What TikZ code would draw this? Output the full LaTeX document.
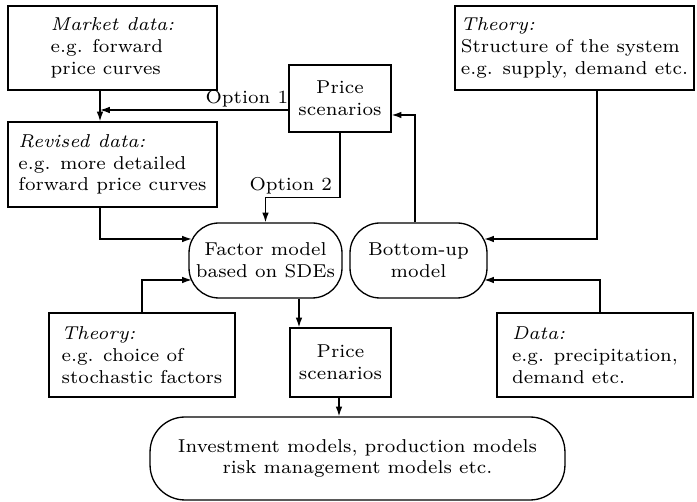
\documentclass[tikz,border=0pt]{standalone}
\usepackage{fontspec}
\setmainfont{lmroman7-regular.otf}[ItalicFont=lmroman7-italic.otf]
\usetikzlibrary{arrows.meta,calc}
\begin{document}
\begin{tikzpicture}[x=0.02cm,y=-0.02cm,
  every node/.style={font=\fontsize{10.6}{12.4}\selectfont},
  box/.style={draw,line width=0.75pt,inner sep=0pt,align=left},
  rbox/.style={draw,line width=0.75pt,inner sep=0pt,align=center,rounded corners=0.6cm},
  arr/.style={line width=0.75pt,-{Latex[length=5.6pt,width=3.8pt]}},
  lbl/.style={inner sep=1.5pt}]
\useasboundingbox (0,0) rectangle (697,502);
\node[box,minimum width=4.18cm,minimum height=1.68cm] (market) at (112.5,48) {\textit{Market data:}\\e.g. forward\\price curves};
\node[box,minimum width=4.18cm,minimum height=1.70cm] (revised) at (112.5,164.5) {\textit{Revised data:}\\e.g. more detailed\\forward price curves};
\node[box,align=center,minimum width=2.04cm,minimum height=1.34cm] (ptop) at (340,98.5) {Price\\scenarios};
\node[box,minimum width=4.78cm,minimum height=1.68cm] (theoryt) at (574.5,48) {\textit{Theory:}\\Structure of the system\\e.g. supply, demand etc.};
\node[rbox,minimum width=3.06cm,minimum height=1.5cm] (factor) at (265.5,260.5) {Factor model\\based on SDEs};
\node[rbox,minimum width=2.74cm,minimum height=1.5cm] (bu) at (418.5,260.5) {Bottom-up\\model};
\node[box,minimum width=3.72cm,minimum height=1.68cm] (theoryb) at (142,355) {\textit{Theory:}\\e.g. choice of\\stochastic factors};
\node[box,align=center,minimum width=2.02cm,minimum height=1.38cm] (pbot) at (340.5,362.5) {Price\\scenarios};
\node[box,minimum width=3.92cm,minimum height=1.68cm] (data) at (595,355) {\textit{Data:}\\e.g. precipitation,\\demand etc.};
\node[rbox,rounded corners=0.7cm,minimum width=8.3cm,minimum height=1.66cm] (invest) at (357.5,458.5) {Investment models, production models\\risk management models etc.};
\coordinate (mr) at ([xshift=-0.25cm]market.south);
\draw[arr] (mr) -- (mr |- revised.north);
\draw[arr] ([yshift=-0.23cm]ptop.west) -- node[lbl,above,pos=0.22] {Option 1} ([yshift=-0.23cm]ptop.west -| mr);
\draw[arr] (ptop.south) -- ++(0,65) -| node[lbl,above,pos=0.33] {Option 2} (factor.north);
\draw[arr] ([xshift=-0.25cm]revised.south) |- ([yshift=0.43cm,xshift=0.07cm]factor.west);
\draw[arr] ([xshift=0.45cm]theoryt.south) |- ([yshift=0.43cm,xshift=-0.07cm]bu.east);
\draw[arr] ([xshift=-0.07cm]bu.north) |- ([yshift=-0.33cm]ptop.east);
\draw[arr] (theoryb.north) |- ([yshift=-0.39cm,xshift=0.07cm]factor.west);
\draw[arr] ([xshift=0.1cm]data.north) |- ([yshift=-0.39cm,xshift=-0.07cm]bu.east);
\coordinate (fs) at ([xshift=0.67cm]factor.south);
\draw[arr] (fs) -- (fs |- pbot.north);
\draw[arr] ([xshift=-0.03cm]pbot.south) -- ([xshift=-0.03cm]pbot.south |- invest.north);
\end{tikzpicture}
\end{document}
